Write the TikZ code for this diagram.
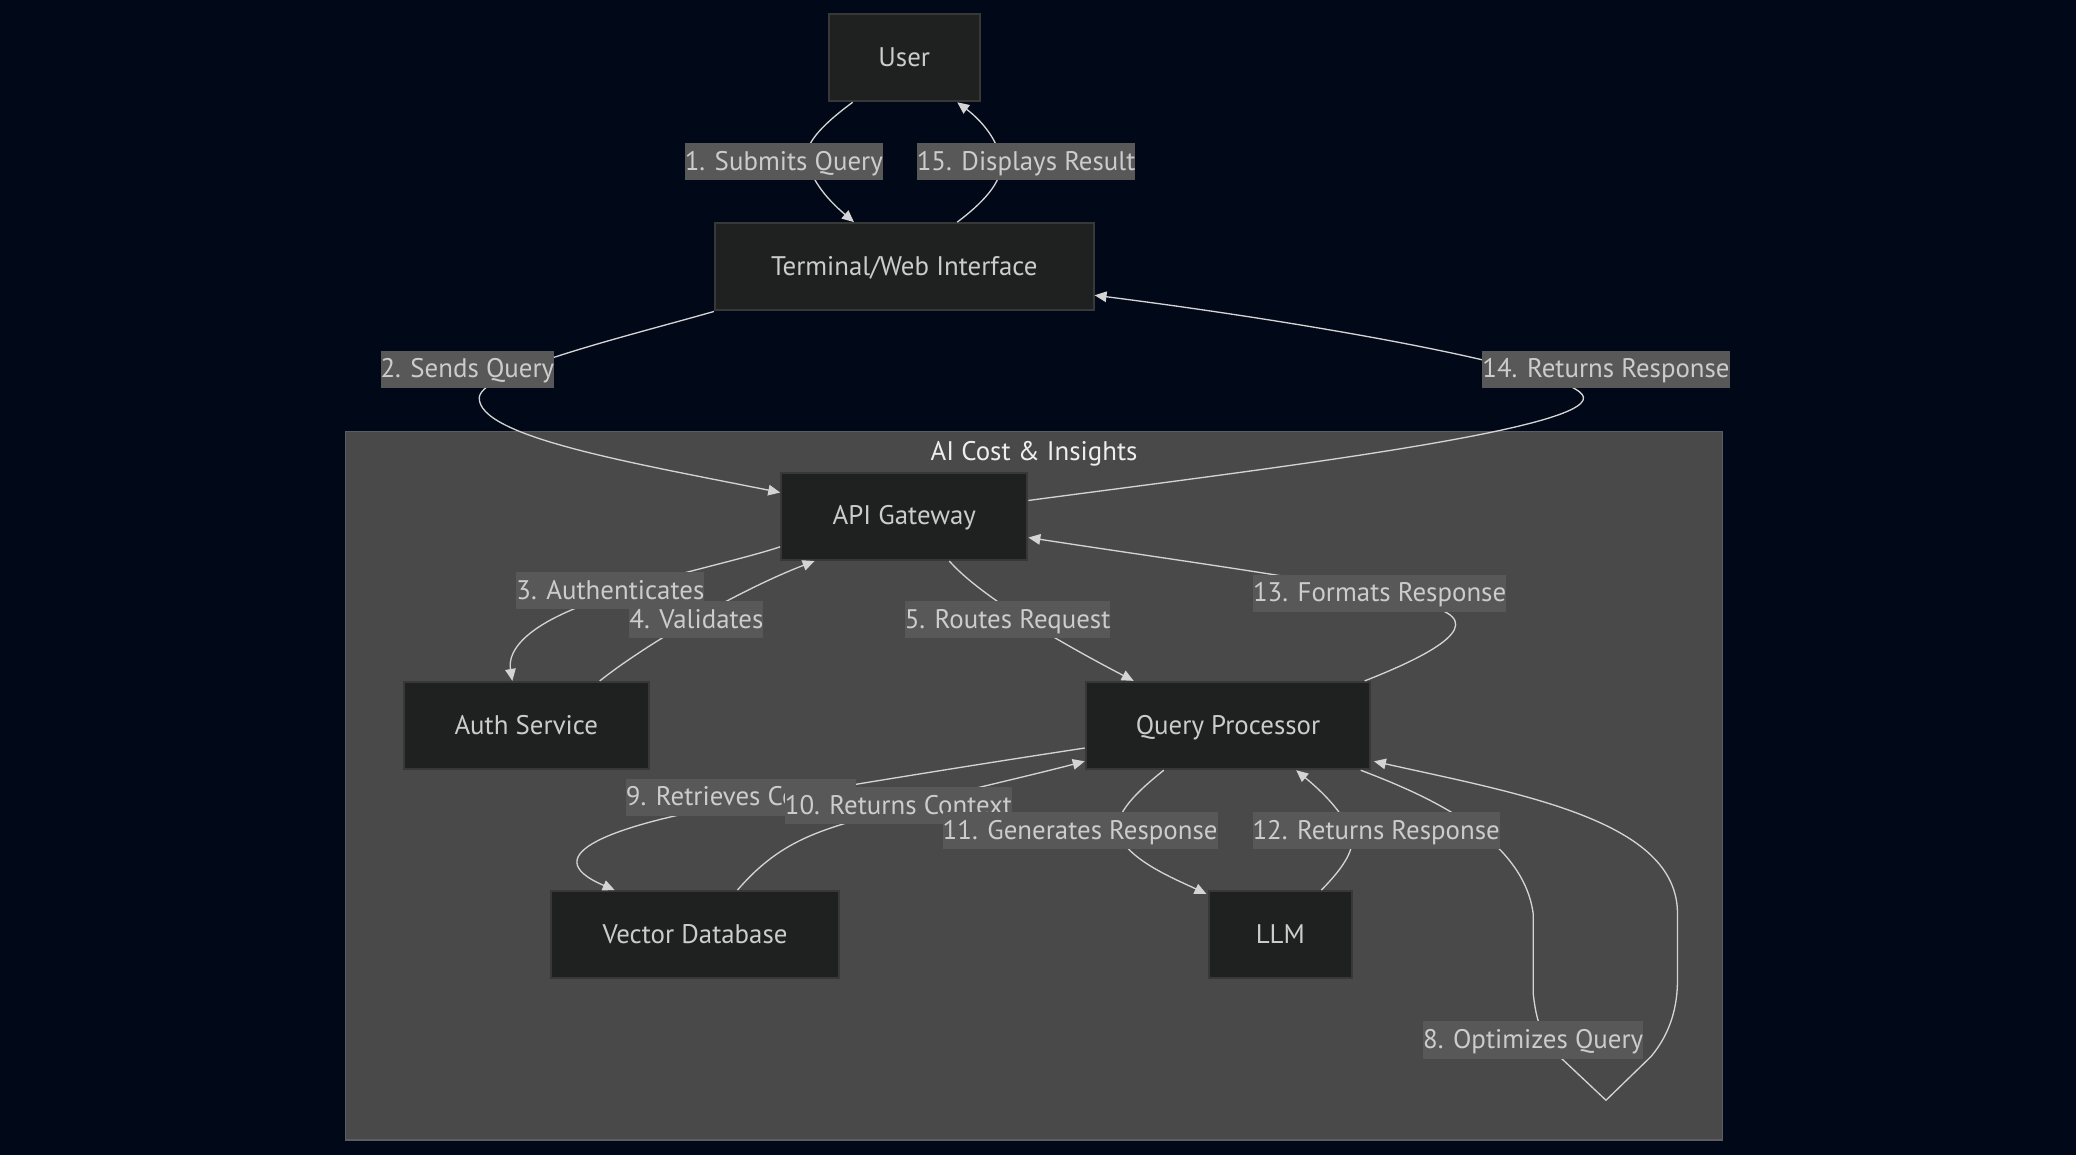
\documentclass[tikz,border=0pt]{standalone}
\usepackage{fontspec}
\setmainfont{PT Sans}
\usetikzlibrary{arrows.meta,calc}
\definecolor{bgc}{RGB}{1,8,23}
\definecolor{clf}{RGB}{72,73,72}
\definecolor{clb}{RGB}{92,92,100}
\definecolor{nodef}{RGB}{31,32,32}
\definecolor{nodeb}{RGB}{56,56,56}
\definecolor{lblf}{RGB}{88,88,88}
\definecolor{txt}{RGB}{204,204,204}
\definecolor{edgec}{RGB}{212,212,212}
\definecolor{titlec}{RGB}{238,238,238}
\newcommand{\fs}{\fontsize{20.3}{24}\selectfont}
\begin{document}
\begin{tikzpicture}[x=1pt,y=-1pt,
  box/.style={draw=nodeb,fill=nodef,line width=1.5pt,text=txt,minimum height=66pt,inner sep=0pt,text height=16.5pt,text depth=3.5pt,font=\fs},
  lbl/.style={fill=lblf,text=txt,inner xsep=0pt,inner ysep=4pt,text height=16.5pt,text depth=3.5pt,font=\fs},
  edge/.style={draw=edgec,line width=1pt,-{Triangle[length=9pt,width=8pt]}},
]
\fill[bgc] (0,0) rectangle (1568,872);
\useasboundingbox (0,0) rectangle (1568,872);
% cluster
\draw[fill=clf,draw=clb,line width=1pt] (261,326) rectangle (1301,861);
\node[font=\fs,text=titlec,inner sep=0pt,text height=16.5pt,text depth=3.5pt] (ctitle) at (781,341) {AI Cost \& Insights};
% nodes
\node[box,minimum width=114pt] (user) at (683,43.5) {User};
\node[box,minimum width=286pt] (term) at (683,201.5) {Terminal/Web Interface};
\node[box,minimum width=186pt] (api) at (683,390) {API Gateway};
\node[box,minimum width=185pt] (auth) at (397.5,548) {Auth Service};
\node[box,minimum width=215pt] (qp) at (927.5,548) {Query Processor};
\node[box,minimum width=218pt] (vdb) at (525,706) {Vector Database};
\node[box,minimum width=108pt] (llm) at (967,706) {LLM};
% edges
\draw[edge] ($(user.south)+(-39,0)$) .. controls (620,95) and (606,110) .. (610,122) .. controls (614,140) and (630,155) .. ($(term.north)+(-38,0)$);
\draw[edge] ($(term.north)+(40,0)$) .. controls (740,155) and (758,138) .. (756,122) .. controls (754,105) and (740,90) .. ($(user.south)+(40,0)$);
\draw[edge] (term.south west) .. controls (470,255) and (365,280) .. (362,300) .. controls (360,330) and (480,350) .. ($(api.west)+(0,-18)$);
\draw[edge] ($(api.east)+(0,-12)$) .. controls (950,355) and (1200,325) .. (1196,300) .. controls (1192,280) and (1000,245) .. ($(term.east)+(0,21.5)$);
\draw[edge] ($(api.west)+(0,23)$) .. controls (560,423) and (480,440) .. (455,452) .. controls (400,470) and (383,490) .. ($(auth.north)+(-10.5,0)$);
\draw[edge] ($(auth.north)+(55.5,0)$) .. controls (490,485) and (560,445) .. ($(api.south west)+(26,0)$);
\draw[edge] ($(api.south)+(34,0)$) .. controls (740,450) and (800,485) .. ($(qp.north west)+(37,0)$);
\draw[edge] ($(qp.north east)+(-5,0)$) .. controls (1085,493) and (1125,470) .. (1080,458) .. controls (1050,445) and (900,425) .. ($(api.east)+(0,16)$);
\draw[edge] ($(qp.south east)+(-8,0)$) .. controls (1070,598) and (1150,630) .. (1158,690) -- (1158,750) .. controls (1160,770) and (1165,788) .. (1180,800) -- (1213,831) -- (1247,798) .. controls (1262,780) and (1267,760) .. (1267,740) -- (1267,690) .. controls (1267,620) and (1150,600) .. ($(qp.east)+(2,27)$);
\draw[edge] ($(qp.west)+(0,17)$) .. controls (720,580) and (600,600) .. (540,610) .. controls (470,623) and (400,645) .. ($(vdb.north west)+(49,0)$);
\draw[edge] ($(vdb.north)+(32,0)$) .. controls (585,640) and (610,630) .. (648,619) .. controls (700,603) and (770,588) .. ($(qp.west)+(0,27)$);
\draw[edge] ($(qp.south)+(-48.5,0)$) .. controls (860,597) and (840,615) .. (845,630) .. controls (852,650) and (890,665) .. ($(llm.north west)+(-1,3)$);
\draw[edge] ($(llm.north)+(31,0)$) .. controls (1015,655) and (1025,640) .. (1020,628) .. controls (1012,610) and (995,595) .. ($(qp.south)+(51.5,0)$);
% edge labels
\node[lbl] (l1) at (592,122) {1. Submits Query};
\node[lbl] (l2) at (353,279) {2. Sends Query};
\node[lbl] (l3) at (461,446) {3. Authenticates};
\node[lbl] (l4) at (526,468) {4. Validates};
\node[lbl] (l5) at (761,468) {5. Routes Request};
\node[lbl] (l8) at (1158,785.5) {8. Optimizes Query};
\node[lbl,anchor=west] (l9) at (472.6,602) {9. Retrieves Context};
\node[lbl] (l10) at (678.6,608.7) {10. Returns Context};
\node[lbl] (l11) at (815.8,627.6) {11. Generates Response};
\node[lbl] (l12) at (1039.4,627.6) {12. Returns Response};
\node[lbl] (l13) at (1042,448) {13. Formats Response};
\node[lbl] (l14) at (1213,279) {14. Returns Response};
\node[lbl] (l15) at (775,122) {15. Displays Result};
\end{tikzpicture}
\end{document}
